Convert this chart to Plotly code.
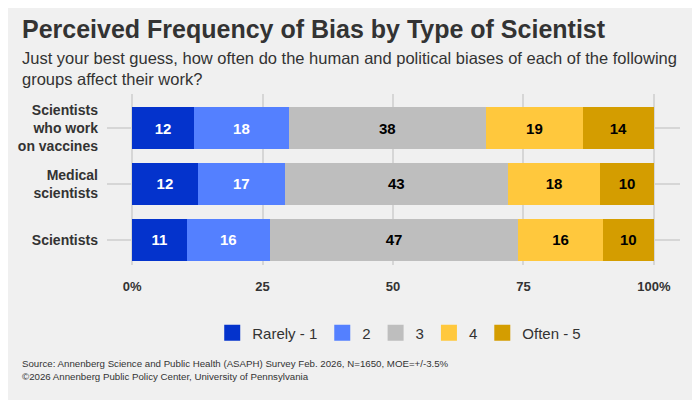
import plotly.graph_objects as go

# survey groups, top to bottom
groups = ["Scientists<br>who work<br>on vaccines", "Medical<br>scientists", "Scientists"]

# share of respondents per answer, and the printed labels
rarely_1 = [11.9, 12.6, 10.5]
two = [18.1, 16.7, 15.9]
three = [37.8, 42.7, 47.6]
four = [18.6, 17.7, 16.2]
often_5 = [13.6, 10.3, 9.8]

rarely_1_lbl = [12, 12, 11]
two_lbl = [18, 17, 16]
three_lbl = [38, 43, 47]
four_lbl = [19, 18, 16]
often_5_lbl = [14, 10, 10]

tick_vals = [0, 25, 50, 75, 100]
tick_text = ["0%", "25", "50", "75", "100%"]

series = [
    ("Rarely - 1", rarely_1, rarely_1_lbl, "#0433cc", "white"),
    ("2", two, two_lbl, "#5480ff", "white"),
    ("3", three, three_lbl, "#bebebe", "black"),
    ("4", four, four_lbl, "#ffc83d", "black"),
    ("Often - 5", often_5, often_5_lbl, "#d49d00", "black"),
]

PLOT_H = 171  # plot area height in px, used to place the texts outside it
PLOT_W = 573

fig = go.Figure()
for name, vals, lbls, col, tcol in series:
    fig.add_trace(go.Bar(
        y=groups, x=vals, name=name, orientation="h",
        marker=dict(color=col, line=dict(width=0)),
        text=[str(v) for v in lbls], textposition="inside",
        insidetextanchor="middle", textangle=0,
        textfont=dict(color=tcol, size=15, family="Liberation Sans", weight="bold"),
        showlegend=False,
    ))
    # bigger square swatch for the legend
    fig.add_trace(go.Scatter(
        x=[None], y=[None], mode="markers", name=name,
        marker=dict(symbol="square", size=16, color=col),
    ))

# page body has an 8px margin, so the figure is 8px smaller and sits at (8, 8)
fig.update_layout(
    barmode="stack",
    bargap=0.25,
    width=692, height=392,
    margin=dict(l=99, r=20, t=86, b=135, autoexpand=False),
    paper_bgcolor="#f0f0f0",
    plot_bgcolor="#f0f0f0",
    font=dict(family="Liberation Sans", color="#333333"),
    legend=dict(
        orientation="h", x=0.51, xanchor="center", y=-68 / PLOT_H, yanchor="middle",
        font=dict(size=15, color="#333333"), bgcolor="rgba(0,0,0,0)",
        traceorder="normal", itemclick=False,
    ),
    showlegend=True,
)

fig.update_xaxes(
    range=[-4.8, 105], tickvals=tick_vals, ticktext=tick_text,
    showgrid=True, gridcolor="#d6d6d6", gridwidth=1.5, zeroline=False,
    tickfont=dict(size=13, color="#333333", weight="bold"),
    ticks="", ticklabelstandoff=12, fixedrange=True, automargin=False,
)
fig.update_yaxes(
    autorange=False, range=[2.45, -0.61],
    showgrid=True, gridcolor="#d6d6d6", gridwidth=1.5, zeroline=False,
    tickfont=dict(size=14, color="#333333", weight="bold"),
    ticks="", ticklabelstandoff=8, fixedrange=True, automargin=False,
)

left = -87 / PLOT_W
fig.add_annotation(
    text="<b>Perceived Frequency of Bias by Type of Scientist</b>",
    xref="paper", yref="paper", x=left, y=1 + 65 / PLOT_H,
    xanchor="left", yanchor="middle", align="left", showarrow=False,
    font=dict(size=25, color="#333333"),
)
fig.add_annotation(
    text="Just your best guess, how often do the human and political biases of each of the following<br>groups affect their work?",
    xref="paper", yref="paper", x=left, y=1 + 26 / PLOT_H,
    xanchor="left", yanchor="middle", align="left", showarrow=False,
    font=dict(size=16.5, color="#333333"),
)
fig.add_annotation(
    text="Source: Annenberg Science and Public Health (ASAPH) Survey Feb. 2026, N=1650, MOE=+/-3.5%<br>©2026 Annenberg Public Policy Center, University of Pennsylvania",
    xref="paper", yref="paper", x=left, y=-104.5 / PLOT_H,
    xanchor="left", yanchor="middle", align="left", showarrow=False,
    font=dict(size=9.7, color="#333333"),
)

fig.write_html("out.html")
